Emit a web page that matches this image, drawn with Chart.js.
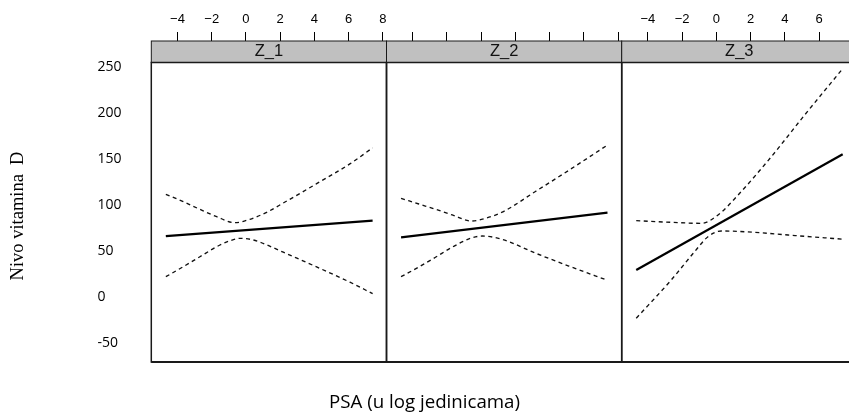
<!DOCTYPE html>
<html>
<head>
<meta charset="utf-8">
<title>Nivo vitamina D prema PSA</title>
<script src="https://cdn.jsdelivr.net/npm/chart.js@4/dist/chart.umd.min.js"></script>
<style>
  html, body { margin: 0; padding: 0; background: #fff; overflow: hidden; }
  #wrap { width: 880px; height: 418px; }
</style>
</head>
<body>
<div id="wrap"><canvas id="c" width="880" height="418"></canvas></div>
<script>
// Panel names (strip labels)
const panelNames = ['Z_1', 'Z_2', 'Z_3'];

// Tick values
const xTickValues = [-4, -2, 0, 2, 4, 6, 8];
const yTickValues = [-50, 0, 50, 100, 150, 200, 250];

// Fitted regression line per panel: [PSA, vitamin D]
const fitZ1 = [[-4.68, 66.6], [7.40, 83.3]];
const fitZ2 = [[-4.68, 65.2], [7.38, 92.0]];
const fitZ3 = [[-4.68, 29.7], [7.38, 155.4]];

// Upper confidence band per panel
const upperZ1 = [[-4.68, 112.0], [-3.66, 104.0], [-2.69, 95.6], [-1.71, 87.6], [-0.64, 81.1], [0.23, 84.8], [1.21, 92.4], [2.18, 102.5], [4.13, 123.5], [6.07, 145.0], [7.40, 162.5]];
const upperZ2 = [[-4.68, 107.6], [-3.64, 101.4], [-2.67, 95.7], [-1.69, 89.5], [-0.57, 82.9], [0.25, 85.9], [1.23, 92.5], [3.17, 115.0], [5.12, 138.0], [7.38, 165.5]];
const upperZ3 = [[-4.68, 83.3], [-2.63, 81.5], [-0.88, 80.4], [0.10, 89.5], [1.27, 111.2], [3.21, 152.8], [5.16, 198.2], [7.38, 248.5]];

// Lower confidence band per panel
const lowerZ1 = [[-4.68, 22.4], [-3.66, 33.3], [-2.69, 44.1], [-1.71, 55.0], [-0.93, 61.5], [-0.35, 64.1], [0.43, 62.3], [1.21, 57.0], [2.18, 49.0], [4.13, 33.0], [6.07, 16.5], [7.40, 4.0]];
const lowerZ2 = [[-4.68, 22.4], [-3.64, 33.0], [-2.67, 43.5], [-1.69, 54.5], [-0.57, 64.5], [0.06, 66.6], [1.23, 63.0], [3.17, 48.0], [5.12, 34.0], [7.38, 18.5]];
const lowerZ3 = [[-4.68, -22.8], [-2.63, 19.0], [-1.27, 49.6], [-0.49, 65.9], [0.29, 72.1], [2.24, 70.6], [4.19, 67.7], [7.38, 63.2]];

const fits = [fitZ1, fitZ2, fitZ3];
const uppers = [upperZ1, upperZ2, upperZ3];
const lowers = [lowerZ1, lowerZ2, lowerZ3];

const xTitle = 'PSA (u log jedinicama)';
const yTitle = 'Nivo vitamina  D';

const panelIds = ['x1', 'x2', 'x3'];
const toPoints = arr => arr.map(([x, y]) => ({ x, y }));
const minus = v => (v < 0 ? '\u2212' + Math.abs(v) : String(v));

const datasets = [];
panelIds.forEach((id, i) => {
  datasets.push({
    data: toPoints(fits[i]), xAxisID: id, yAxisID: 'y', showLine: true,
    borderColor: '#000', borderWidth: 2.2, pointRadius: 0
  });
  [uppers[i], lowers[i]].forEach(band => {
    datasets.push({
      data: toPoints(band), xAxisID: id, yAxisID: 'y', showLine: true,
      borderColor: '#111', borderWidth: 1.35, borderDash: [4, 3.5],
      pointRadius: 0, cubicInterpolationMode: 'monotone'
    });
  });
});

const STRIP_H = 21.5;
const AXIS_H = 62.5;

// Top axes are stacked side by side; higher weight is placed further left
function panelScale(i, showLabels) {
  return {
    type: 'linear', axis: 'x', position: 'top', stack: 'panels', stackWeight: 1,
    weight: 3 - i,
    min: -5.53, max: 8.21,
    afterBuildTicks: s => { s.ticks = xTickValues.map(v => ({ value: v })); },
    afterFit: s => { s.height = AXIS_H; s.paddingLeft = 0; s.paddingRight = 0; },
    ticks: {
      autoSkip: false, maxRotation: 0, minRotation: 0, padding: 5.2, color: '#000',
      font: { family: '"Liberation Sans", Arial, sans-serif', size: 13 },
      callback: v => (showLabels ? minus(v) : '')
    },
    grid: { display: true, drawOnChartArea: false, drawTicks: true, tickLength: 30.5, tickColor: '#000', tickWidth: 1 },
    border: { display: false }
  };
}

// Frames, strips and axis titles of the lattice panels
const panelFrame = {
  id: 'panelFrame',
  afterDraw(chart) {
    const ctx = chart.ctx;
    const area = chart.chartArea;
    ctx.save();
    panelIds.forEach((id, i) => {
      const s = chart.scales[id];
      const top = area.top - STRIP_H;
      ctx.fillStyle = '#c0c0c0';
      ctx.fillRect(s.left, top, s.width, STRIP_H);
      ctx.strokeStyle = '#1a1a1a';
      ctx.lineWidth = 1;
      ctx.strokeRect(s.left, top, s.width, STRIP_H);
      ctx.fillStyle = '#111';
      ctx.font = '16.5px "Liberation Sans", Arial, sans-serif';
      ctx.textAlign = 'center';
      ctx.textBaseline = 'middle';
      ctx.fillText(panelNames[i], (s.left + s.right) / 2, top + STRIP_H / 2);
      ctx.lineWidth = 1.5;
      ctx.strokeRect(s.left, area.top, s.width, area.bottom - area.top);
    });
    ctx.lineWidth = 2;
    ctx.beginPath();
    ctx.moveTo(area.left, area.bottom);
    ctx.lineTo(area.right, area.bottom);
    ctx.stroke();

    ctx.fillStyle = '#000';
    ctx.font = '18.7px "Open Sans", sans-serif';
    ctx.textAlign = 'center';
    ctx.textBaseline = 'middle';
    ctx.fillText(xTitle, 424.5, 403);

    ctx.translate(18, 216);
    ctx.rotate(-Math.PI / 2);
    ctx.font = '18.5px "Liberation Serif", "Times New Roman", serif';
    ctx.fillText(yTitle, 0, 0);
    ctx.restore();
  }
};

new Chart(document.getElementById('c'), {
  type: 'scatter',
  data: { datasets },
  options: {
    responsive: false,
    animation: false,
    events: [],
    layout: { padding: { left: 97.5, right: 23.1, top: 0, bottom: 56 } },
    plugins: { legend: { display: false }, tooltip: { enabled: false } },
    scales: {
      x1: panelScale(0, true),
      x2: panelScale(1, false),
      x3: panelScale(2, true),
      y: {
        type: 'linear', axis: 'y', position: 'left',
        min: -70.3, max: 255.2,
        afterBuildTicks: s => { s.ticks = yTickValues.map(v => ({ value: v })); },
        afterFit: s => { s.width = 53.8; },
        ticks: {
          crossAlign: 'far', padding: 0, color: '#000',
          font: { family: '"Open Sans", sans-serif', size: 14 }
        },
        grid: { display: false },
        border: { display: false }
      }
    }
  },
  plugins: [panelFrame]
});
</script>
</body>
</html>
